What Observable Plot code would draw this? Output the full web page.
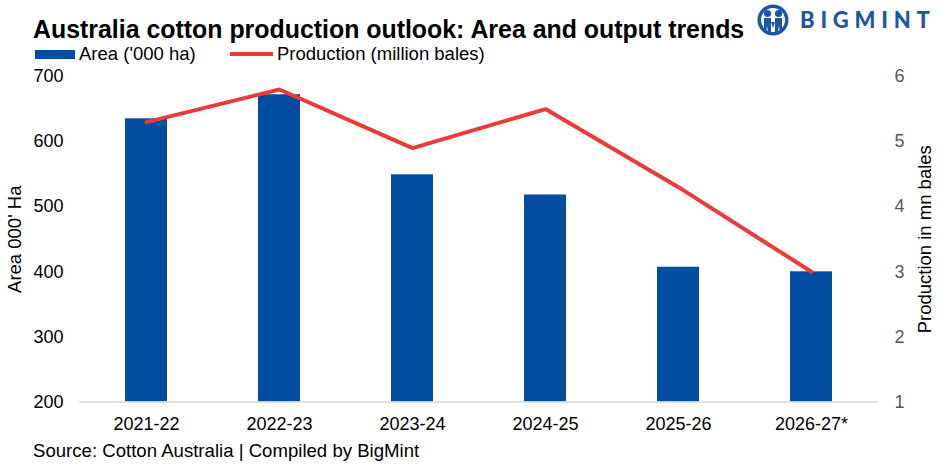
<!DOCTYPE html>
<html>
<head>
<meta charset="utf-8">
<script src="https://cdn.jsdelivr.net/npm/d3@7"></script>
<script src="https://cdn.jsdelivr.net/npm/@observablehq/plot@0.6"></script>
<style>
  html, body { margin: 0; padding: 0; background: #fff; }
  #wrap { position: relative; width: 940px; height: 470px; overflow: hidden; font-family: "Liberation Sans", Arial, sans-serif; color: #000; }
  .abs { position: absolute; white-space: nowrap; line-height: 1; }
  #title { left: 33px; top: 17px; font-size: 24.9px; font-weight: 700; }
  #logo { left: 756px; top: 4px; display: flex; align-items: center; }
  #logo span { font-family: Lato, "Liberation Sans", sans-serif; font-weight: 900; font-size: 22px; letter-spacing: 5.8px; color: #1f55a6; margin-left: 10px; }
  .legend { top: 45px; font-size: 18.5px; }
  .swatch { position: absolute; }
  #source { left: 33px; top: 442px; font-size: 18.6px; }
  #chart { position: absolute; left: 0; top: 56px; }
</style>
</head>
<body>
<div id="wrap">
  <div id="title" class="abs">Australia cotton production outlook: Area and output trends</div>
  <div id="logo" class="abs">
    <svg width="34" height="32" viewBox="0 0 34 32">
      <circle cx="17" cy="16" r="15.5" fill="#1f55a6"/>
      <circle cx="17" cy="16" r="12" fill="#fff"/>
      <circle cx="11.5" cy="9.5" r="3.6" fill="#1f55a6"/>
      <circle cx="22.5" cy="9.5" r="3.6" fill="#1f55a6"/>
      <path d="M8 14 h7 v14 h-3 l-1 -6 l-1 6 h-2 z" fill="#1f55a6"/>
      <path d="M19 14 h7 v14 h-2 l-1 -6 l-1 6 h-3 z" fill="#1f55a6"/>
      <path d="M15 18 l2 6 l2 -6 z" fill="#1f55a6"/>
    </svg>
    <span>BIGMINT</span>
  </div>
  <div class="swatch" style="left:35px; top:50px; width:40px; height:9px; background:#034ea2;"></div>
  <div class="abs legend" style="left:79px;">Area ('000 ha)</div>
  <div class="swatch" style="left:230px; top:52px; width:43px; height:4px; background:#ee3a35;"></div>
  <div class="abs legend" style="left:277px;">Production (million bales)</div>
  <div id="source" class="abs">Source: Cotton Australia | Compiled by BigMint</div>
  <div id="chart"></div>
</div>
<script>
// Season labels and the two series
const seasons = ["2021-22", "2022-23", "2023-24", "2024-25", "2025-26", "2026-27*"];
const areaKha = [635, 672, 549, 518, 407, 400];          // '000 ha
const productionMnBales = [5.3, 5.8, 4.9, 5.5, 4.3, 3.0]; // million bales

// Axis ticks
const areaTicks = [200, 300, 400, 500, 600, 700];
const productionTicks = [1, 2, 3, 4, 5, 6];

const rows = seasons.map((s, i) => ({ season: s, area: areaKha[i], production: productionMnBales[i] }));

// The secondary axis (1–6 mn bales) shares the plot height with the primary one (200–700)
const toArea = p => 200 + (p - 1) * 100;
const fromArea = a => (a - 200) / 100 + 1;

const chart = Plot.plot({
  width: 940,
  height: 390,
  marginTop: 20,
  marginBottom: 44.5,
  marginLeft: 79,
  marginRight: 62,
  style: { fontFamily: "'Liberation Sans', Arial, sans-serif", fontSize: "18px", color: "#000", background: "transparent", overflow: "visible" },
  x: { domain: seasons, paddingInner: 0.685, paddingOuter: 0.3425, label: null },
  y: { domain: [200, 700], label: null },
  marks: [
    Plot.barY(rows, { x: "season", y1: 200, y2: "area", fill: "#034ea2" }),
    Plot.ruleY([200], { stroke: "#d9d9d9", strokeWidth: 1.5 }),
    Plot.lineY(rows, { x: "season", y: d => toArea(d.production), stroke: "#ee3a35", strokeWidth: 4, strokeLinejoin: "miter" }),
    Plot.axisX({ tickSize: 0, tickPadding: 15, fontSize: 18, label: null }),
    Plot.axisY({ ticks: areaTicks, tickSize: 0, tickPadding: 16, fontSize: 18, fill: "#000", label: null }),
    Plot.axisY(productionTicks.map(toArea), {
      anchor: "right", tickSize: 0, tickPadding: 16, fontSize: 18, fill: "#595959",
      tickFormat: d => String(Math.round(fromArea(d))), label: null
    }),
    Plot.text(["Area 000' Ha"], { frameAnchor: "left", dx: -64, rotate: -90, textAnchor: "middle", fontSize: 18.5, fill: "#000" }),
    Plot.text(["Production in mn bales"], { frameAnchor: "right", dx: 47, rotate: -90, textAnchor: "middle", fontSize: 18.5, fill: "#000" })
  ]
});
document.getElementById("chart").appendChild(chart);
</script>
</body>
</html>
